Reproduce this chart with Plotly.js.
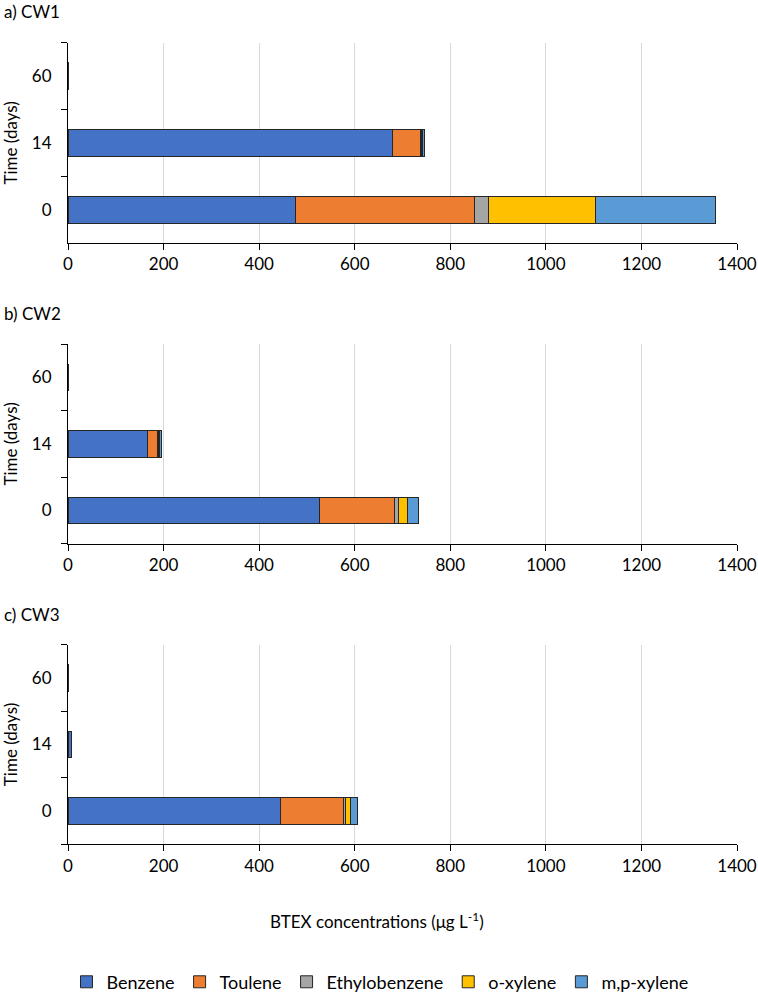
<!DOCTYPE html>
<html>
<head>
<meta charset="utf-8">
<script src="https://cdn.plot.ly/plotly-3.0.1.min.js"></script>
<style>html,body{margin:0;padding:0;background:#fff;}#chart{width:758px;height:1001px;}</style>
</head>
<body>
<div id="chart"></div>
<script>
// ---- data ----
var days = ["0", "14", "60"];
var compounds = ["Benzene", "Toulene", "Ethylobenzene", "o-xylene", "m,p-xylene"];
var panelTitles = ["a) CW1", "b) CW2", "c) CW3"];
var xTicks = [0, 200, 400, 600, 800, 1000, 1200, 1400];

// CW1 (days 0, 14, 60)
var cw1Benzene = [476, 679, 0.6];
var cw1Toulene = [374, 58, 0.3];
var cw1Ethyl   = [31, 2, 0.2];
var cw1OXylene = [222, 3, 0.2];
var cw1MPXylene= [253, 3, 0.2];

// CW2
var cw2Benzene = [526, 166, 0.6];
var cw2Toulene = [157, 22, 0.3];
var cw2Ethyl   = [8, 2, 0.2];
var cw2OXylene = [20, 2.5, 0.2];
var cw2MPXylene= [22, 2.5, 0.2];

// CW3
var cw3Benzene = [445, 6.5, 0.6];
var cw3Toulene = [132, 0.2, 0.3];
var cw3Ethyl   = [3, 0.1, 0.2];
var cw3OXylene = [11, 0.1, 0.2];
var cw3MPXylene= [14, 0.1, 0.2];

var colors = ["#4472C4", "#ED7D31", "#A5A5A5", "#FFC000", "#5B9BD5"];

var panels = [
  [cw1Benzene, cw1Toulene, cw1Ethyl, cw1OXylene, cw1MPXylene],
  [cw2Benzene, cw2Toulene, cw2Ethyl, cw2OXylene, cw2MPXylene],
  [cw3Benzene, cw3Toulene, cw3Ethyl, cw3OXylene, cw3MPXylene]
];

var W = 758, H = 1001;
var FONT = "Lato, 'Open Sans', sans-serif";
var xDom = [68 / W, 737 / W];
var yPix = [[43, 245], [347, 548], [650, 851]];

var traces = [];
panels.forEach(function (series, p) {
  series.forEach(function (vals, c) {
    traces.push({
      type: "bar",
      orientation: "h",
      name: compounds[c],
      legendgroup: compounds[c],
      showlegend: p === 0,
      x: vals,
      y: days,
      xaxis: p === 0 ? "x" : "x" + (p + 1),
      yaxis: p === 0 ? "y" : "y" + (p + 1),
      marker: { color: colors[c], line: { color: "#262626", width: 1 } },
      hoverinfo: "x+name"
    });
  });
});

var layout = {
  width: W, height: H,
  margin: { l: 0, r: 0, t: 0, b: 0 },
  paper_bgcolor: "#fff", plot_bgcolor: "#fff",
  barmode: "stack",
  bargap: 0.6,
  font: { family: FONT, size: 16, color: "#000" },
  showlegend: true,
  legend: {
    orientation: "h", x: 380 / W, xanchor: "center", y: 1 - 990 / H, yanchor: "middle",
    font: { family: FONT, size: 18, color: "#000" },
    traceorder: "normal", itemclick: false, itemdoubleclick: false,
    itemwidth: 30, tracegroupgap: 0
  },
  annotations: []
};

for (var p = 0; p < 3; p++) {
  var sx = p === 0 ? "" : String(p + 1);
  layout["xaxis" + sx] = {
    domain: xDom,
    anchor: "y" + sx,
    range: [0, 1400],
    tickvals: xTicks,
    ticktext: xTicks.map(String),
    showgrid: true, gridcolor: "#D9D9D9", gridwidth: 1,
    showline: true, linecolor: "#000", linewidth: 1,
    ticks: "outside", ticklen: 6, tickcolor: "#000",
    zeroline: false,
    tickfont: { family: FONT, size: 17, color: "#000" },
    fixedrange: true
  };
  layout["yaxis" + sx] = {
    domain: [1 - yPix[p][1] / H, 1 - yPix[p][0] / H],
    anchor: "x" + sx,
    type: "category",
    categoryorder: "array",
    categoryarray: days,
    tickson: "boundaries",
    ticks: "outside", ticklen: 6, tickcolor: "#000",
    ticklabelstandoff: 12,
    showline: true, linecolor: "#000", linewidth: 1,
    showgrid: false, zeroline: false,
    tickfont: { family: FONT, size: 17, color: "#000" },
    title: { text: "Time (days)", font: { family: FONT, size: 17, color: "#000" }, standoff: 10 },
    fixedrange: true
  };
  layout.annotations.push({
    text: panelTitles[p], xref: "paper", yref: "paper",
    x: 2 / W, xanchor: "left", y: 1 - (yPix[p][0] - 31) / H, yanchor: "middle",
    showarrow: false, font: { family: FONT, size: 17, color: "#000" }
  });
}

layout.annotations.push({
  text: "BTEX concentrations (μg L<sup>-1</sup>)", xref: "paper", yref: "paper",
  x: 377 / W, xanchor: "center", y: 1 - 928 / H, yanchor: "middle",
  showarrow: false, font: { family: FONT, size: 17, color: "#000" }
});

Plotly.newPlot("chart", traces, layout, { displayModeBar: false, staticPlot: true });
</script>
</body>
</html>
